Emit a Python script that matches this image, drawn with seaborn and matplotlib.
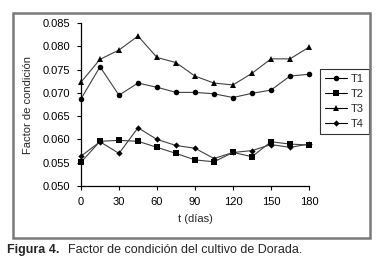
import matplotlib
matplotlib.use("Agg")
import matplotlib.pyplot as plt
import pandas as pd
import seaborn as sns
from matplotlib.patches import Rectangle
from matplotlib.ticker import FormatStrFormatter

DIAS = [0, 15, 30, 45, 60, 75, 90, 105, 120, 135, 150, 165, 180]
T1 = [0.0687, 0.0756, 0.0695, 0.0721, 0.0712, 0.0701, 0.0701, 0.0698, 0.0690, 0.0699, 0.0706, 0.0736, 0.0740]
T2 = [0.0551, 0.0596, 0.0598, 0.0596, 0.0583, 0.0570, 0.0556, 0.0552, 0.0572, 0.0563, 0.0595, 0.0590, 0.0588]
T3 = [0.0723, 0.0772, 0.0792, 0.0822, 0.0776, 0.0765, 0.0736, 0.0721, 0.0717, 0.0742, 0.0773, 0.0773, 0.0798]
T4 = [0.0564, 0.0595, 0.0570, 0.0625, 0.0600, 0.0587, 0.0581, 0.0559, 0.0572, 0.0576, 0.0589, 0.0583, 0.0590]
SERIES = {"T1": T1, "T2": T2, "T3": T3, "T4": T4}
MARKERS = {"T1": "o", "T2": "s", "T3": "^", "T4": "D"}
SIZES = {"T1": 4, "T2": 4.5, "T3": 4.5, "T4": 3.2}

sns.set_style("white")
plt.rcParams["font.family"] = ["Liberation Sans", "DejaVu Sans"]

df = pd.DataFrame({"t": DIAS * 4,
                   "serie": [k for k in SERIES for _ in DIAS],
                   "fc": [v for k in SERIES for v in SERIES[k]]})

fig = plt.figure(figsize=(3.79, 2.74), dpi=100)
ax = fig.add_axes([81 / 379, 1 - 186 / 274, 228 / 379, 163 / 274])

for name in SERIES:
    sub = df[df["serie"] == name]
    sns.lineplot(data=sub, x="t", y="fc", ax=ax, color="#404040", linewidth=0.8,
                 marker=MARKERS[name], markersize=SIZES[name], markeredgewidth=0,
                 markerfacecolor="black", label=name, clip_on=False)

ax.set_xlim(0, 180)
ax.set_ylim(0.050, 0.085)
ax.set_xticks(range(0, 181, 30))
ax.set_yticks([0.050, 0.055, 0.060, 0.065, 0.070, 0.075, 0.080, 0.085])
ax.yaxis.set_major_formatter(FormatStrFormatter("%.3f"))
ax.tick_params(axis="both", direction="out", length=3, width=0.8, labelsize=8,
               colors="black", pad=5, left=True, bottom=True)
for s in ["top", "right"]:
    ax.spines[s].set_visible(False)
for s in ["left", "bottom"]:
    ax.spines[s].set_color("black")
    ax.spines[s].set_linewidth(0.9)
ax.set_xlabel("t (días)", fontsize=8, labelpad=5)
ax.set_ylabel("Factor de condición", fontsize=8, labelpad=7)

leg = ax.legend(loc="upper left", bbox_to_anchor=(320 / 379, 1 - 69 / 274),
                bbox_transform=fig.transFigure, frameon=True, fancybox=False,
                fontsize=8, handlelength=2.0, handletextpad=0.3,
                labelspacing=0.45, borderpad=0.45, borderaxespad=0)
leg.get_frame().set_edgecolor("black")
leg.get_frame().set_linewidth(0.8)
for line in leg.get_lines():
    line.set_color("black")

fig.patches.append(Rectangle((13 / 379, 1 - 238 / 274), 357 / 379, 225 / 274,
                             transform=fig.transFigure, fill=False,
                             edgecolor="#7a7a7a", linewidth=1.8))

fig.text(7 / 379, 1 - 250 / 274, "Figura 4.", fontsize=9, fontweight="bold", va="center")
fig.text(68 / 379, 1 - 250 / 274, "Factor de condición del cultivo de Dorada.",
         fontsize=9, va="center")

fig.savefig("out.png", dpi=100)
